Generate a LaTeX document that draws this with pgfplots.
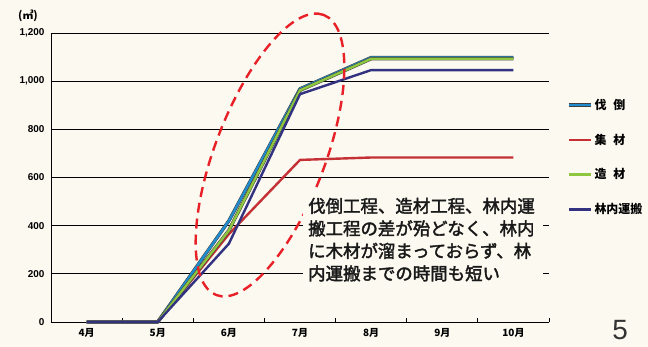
\documentclass[border=0pt]{standalone}
\usepackage{pgfplots}
\pgfplotsset{compat=1.18}
\usepackage{fontspec}
\setmainfont{Liberation Sans}
\newfontfamily\jp{Noto Sans CJK JP}
\newfontfamily\jpnote[FakeBold=2.2]{Noto Sans CJK JP}

\definecolor{paper}{RGB}{251,249,240}
\definecolor{cFell}{RGB}{32,140,208}
\definecolor{cSkid}{RGB}{196,48,52}
\definecolor{cBuck}{RGB}{142,198,63}
\definecolor{cHaul}{RGB}{50,50,128}
\definecolor{cNote}{RGB}{232,32,40}

\begin{document}
\begin{tikzpicture}
\path[use as bounding box, fill=paper] (0bp,0bp) rectangle (648bp,347bp);
\begin{axis}[
  at={(51bp,25bp)}, anchor=south west,
  scale only axis, width=498bp, height=289bp,
  xmin=-0.5, xmax=6.5, ymin=0, ymax=1200,
  axis x line*=bottom, axis y line*=left,
  axis line style={black, line width=0.9bp},
  xtick={-0.5,0.5,...,6.5}, xticklabels={},
  extra x ticks={0,1,2,3,4,5,6},
  extra x tick labels={4月,5月,6月,7月,8月,9月,10月},
  extra x tick style={major tick length=0pt},
  xticklabel style={font=\jp\bfseries\fontsize{10}{12}\selectfont, yshift=-3bp},
  ytick={0,200,...,1200},
  yticklabel style={font=\bfseries\fontsize{10}{12}\selectfont, xshift=-3bp},
  /pgf/number format/1000 sep={,},
  /pgf/number format/assume math mode=true,
  tick align=inside, major tick length=4bp,
  tick style={black, line width=0.9bp},
  ymajorgrids, major grid style={black, line width=0.9bp},
  clip=false,
  legend style={draw=none, fill=none, at={(axis description cs:1.03,0.785)}, anchor=north west,
    font=\jp\bfseries\fontsize{12}{14}\selectfont, row sep=19bp},
  legend cell align=left,
  legend image code/.code={\draw[#1] (0bp,0bp) -- (22bp,0bp);},
]
% felling
\addplot[cFell, line width=2.4bp, line join=round, preaction={draw=black!75, line width=3.4bp}]
  coordinates {(0,0)(1,0)(2,420)(3,968)(4,1098)(5,1098)(6,1098)};
% skidding
\addplot[cSkid, line width=2.4bp, line join=round]
  coordinates {(0,0)(1,0)(2,365)(3,673)(4,683)(5,683)(6,683)};
% bucking
\addplot[cBuck, line width=2.4bp, line join=round, preaction={draw=black!75, line width=3.4bp}]
  coordinates {(0,0)(1,0)(2,380)(3,962)(4,1093)(5,1093)(6,1093)};
% forwarding
\addplot[cHaul, line width=2.4bp, line join=round]
  coordinates {(0,0)(1,0)(2,325)(3,946)(4,1046)(5,1046)(6,1046)};
\legend{伐\hspace{7bp}倒,集\hspace{7bp}材,造\hspace{7bp}材,林内運搬}
\end{axis}

% unit label
\node[font=\jp\bfseries\fontsize{11}{12}\selectfont] at (28bp,331bp) {(㎥)};

% highlight around the June--July rise
\draw[cNote, line width=2.4bp, dash pattern=on 10bp off 6bp, rotate around={69:(270bp,192bp)}]
  (270bp,192bp) ellipse (150bp and 55bp);

% note box
\fill[paper] (303bp,61bp) rectangle (543bp,159bp);
\begin{scope}[every node/.style={anchor=base west, inner sep=0pt, text=black!90,
    font=\jpnote\fontsize{17.5}{20}\selectfont}]
\node at (308bp,134.5bp) {伐倒工程、造材工程、林内運};
\node at (308bp,112bp) {搬工程の差が殆どなく、林内};
\node at (308bp,89.5bp) {に木材が溜まっておらず、林};
\node at (308bp,67bp) {内運搬までの時間も短い};
\end{scope}

% page number
\node[font=\fontsize{28}{30}\selectfont, text=black!80] at (620bp,17bp) {5};
\end{tikzpicture}
\end{document}
